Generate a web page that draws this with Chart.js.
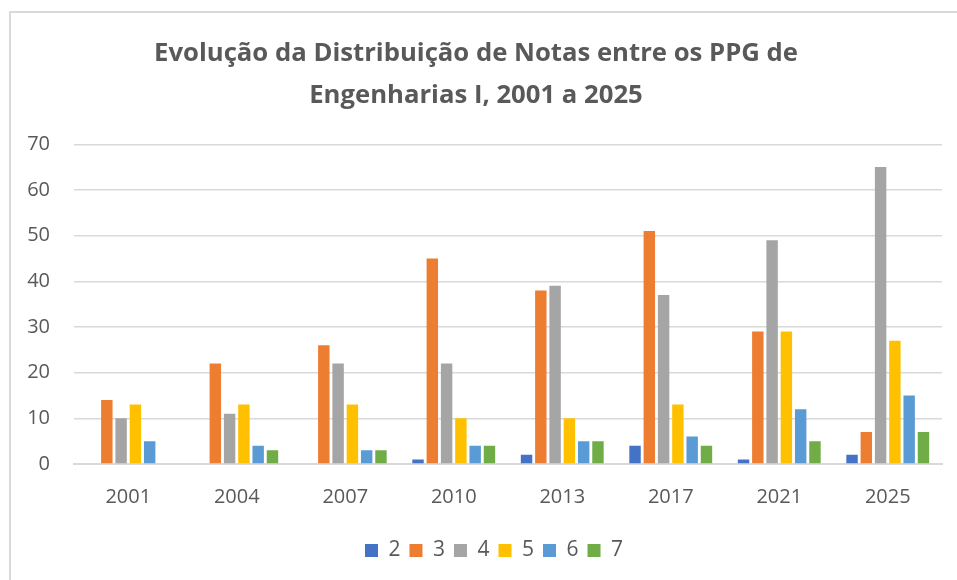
<!DOCTYPE html>
<html>
<head>
<meta charset="utf-8">
<script src="https://cdn.jsdelivr.net/npm/chart.js@4.4.1/dist/chart.umd.min.js"></script>
<style>
  html, body { margin: 0; padding: 0; background: #fff; }
  #wrap { position: relative; width: 957px; height: 580px; overflow: hidden; }
  #frame { position: absolute; left: 9px; top: 11px; width: 1000px; height: 600px;
           border-left: 2px solid #d9d9d9; border-top: 2px solid #d9d9d9; box-sizing: border-box; }
  canvas { position: absolute; left: 0; top: 0; }
</style>
</head>
<body>
<div id="wrap">
  <div id="frame"></div>
  <canvas id="c" width="957" height="580"></canvas>
</div>
<script>
const categories = ["2001", "2004", "2007", "2010", "2013", "2017", "2021", "2025"];
const seriesNames = ["2", "3", "4", "5", "6", "7"];
const nota2 = [0, 0, 0, 1, 2, 4, 1, 2];
const nota3 = [14, 22, 26, 45, 38, 51, 29, 7];
const nota4 = [10, 11, 22, 22, 39, 37, 49, 65];
const nota5 = [13, 13, 13, 10, 10, 13, 29, 27];
const nota6 = [5, 4, 3, 4, 5, 6, 12, 15];
const nota7 = [0, 3, 3, 4, 5, 4, 5, 7];
const yTicks = [0, 10, 20, 30, 40, 50, 60, 70];
const titleLines = ["Evolução da Distribuição de Notas entre os PPG de", "Engenharias I, 2001 a 2025"];

const colors = ["#4472C4", "#ED7D31", "#A5A5A5", "#FFC000", "#5B9BD5", "#70AD47"];
const seriesData = [nota2, nota3, nota4, nota5, nota6, nota7];

const datasets = seriesNames.map((n, i) => ({
  label: n,
  data: seriesData[i],
  backgroundColor: colors[i],
  borderWidth: 0,
  categoryPercentage: 0.79,
  barPercentage: 0.8
}));

const legendShift = {
  id: 'legendShift',
  afterLayout(chart) {
    const lg = chart.legend;
    if (lg) { lg.left += 18; lg.right += 18; }
  }
};

new Chart(document.getElementById('c'), {
  type: 'bar',
  data: { labels: categories, datasets },
  plugins: [legendShift],
  options: {
    responsive: false,
    animation: false,
    devicePixelRatio: 1,
    layout: { padding: { left: 10, right: 15, top: 33, bottom: 9 } },
    plugins: {
      title: {
        display: true,
        text: titleLines,
        color: '#595959',
        font: { family: 'Open Sans', size: 25.7, weight: 'bold', lineHeight: 1.62 },
        padding: { top: 0, bottom: 28 }
      },
      legend: {
        position: 'bottom',
        labels: {
          color: '#595959',
          font: { family: 'Open Sans', size: 21 },
          boxWidth: 13, boxHeight: 13,
          padding: 9
        }
      },
      tooltip: { enabled: false }
    },
    scales: {
      x: {
        grid: { display: false },
        border: { display: true, color: '#d9d9d9', width: 2 },
        afterFit: (s) => { s.height += 9; },
        ticks: { color: '#595959', font: { family: 'Open Sans', size: 20 }, padding: 13 }
      },
      y: {
        min: 0, max: 70,
        afterBuildTicks: (s) => { s.ticks = yTicks.map(v => ({ value: v })); },
        afterFit: (s) => { s.width = 64; },
        grid: { color: '#d9d9d9', lineWidth: 1.5, drawTicks: false },
        border: { display: false },
        ticks: { color: '#595959', font: { family: 'Open Sans', size: 20 }, padding: 24 }
      }
    }
  }
});
</script>
</body>
</html>
